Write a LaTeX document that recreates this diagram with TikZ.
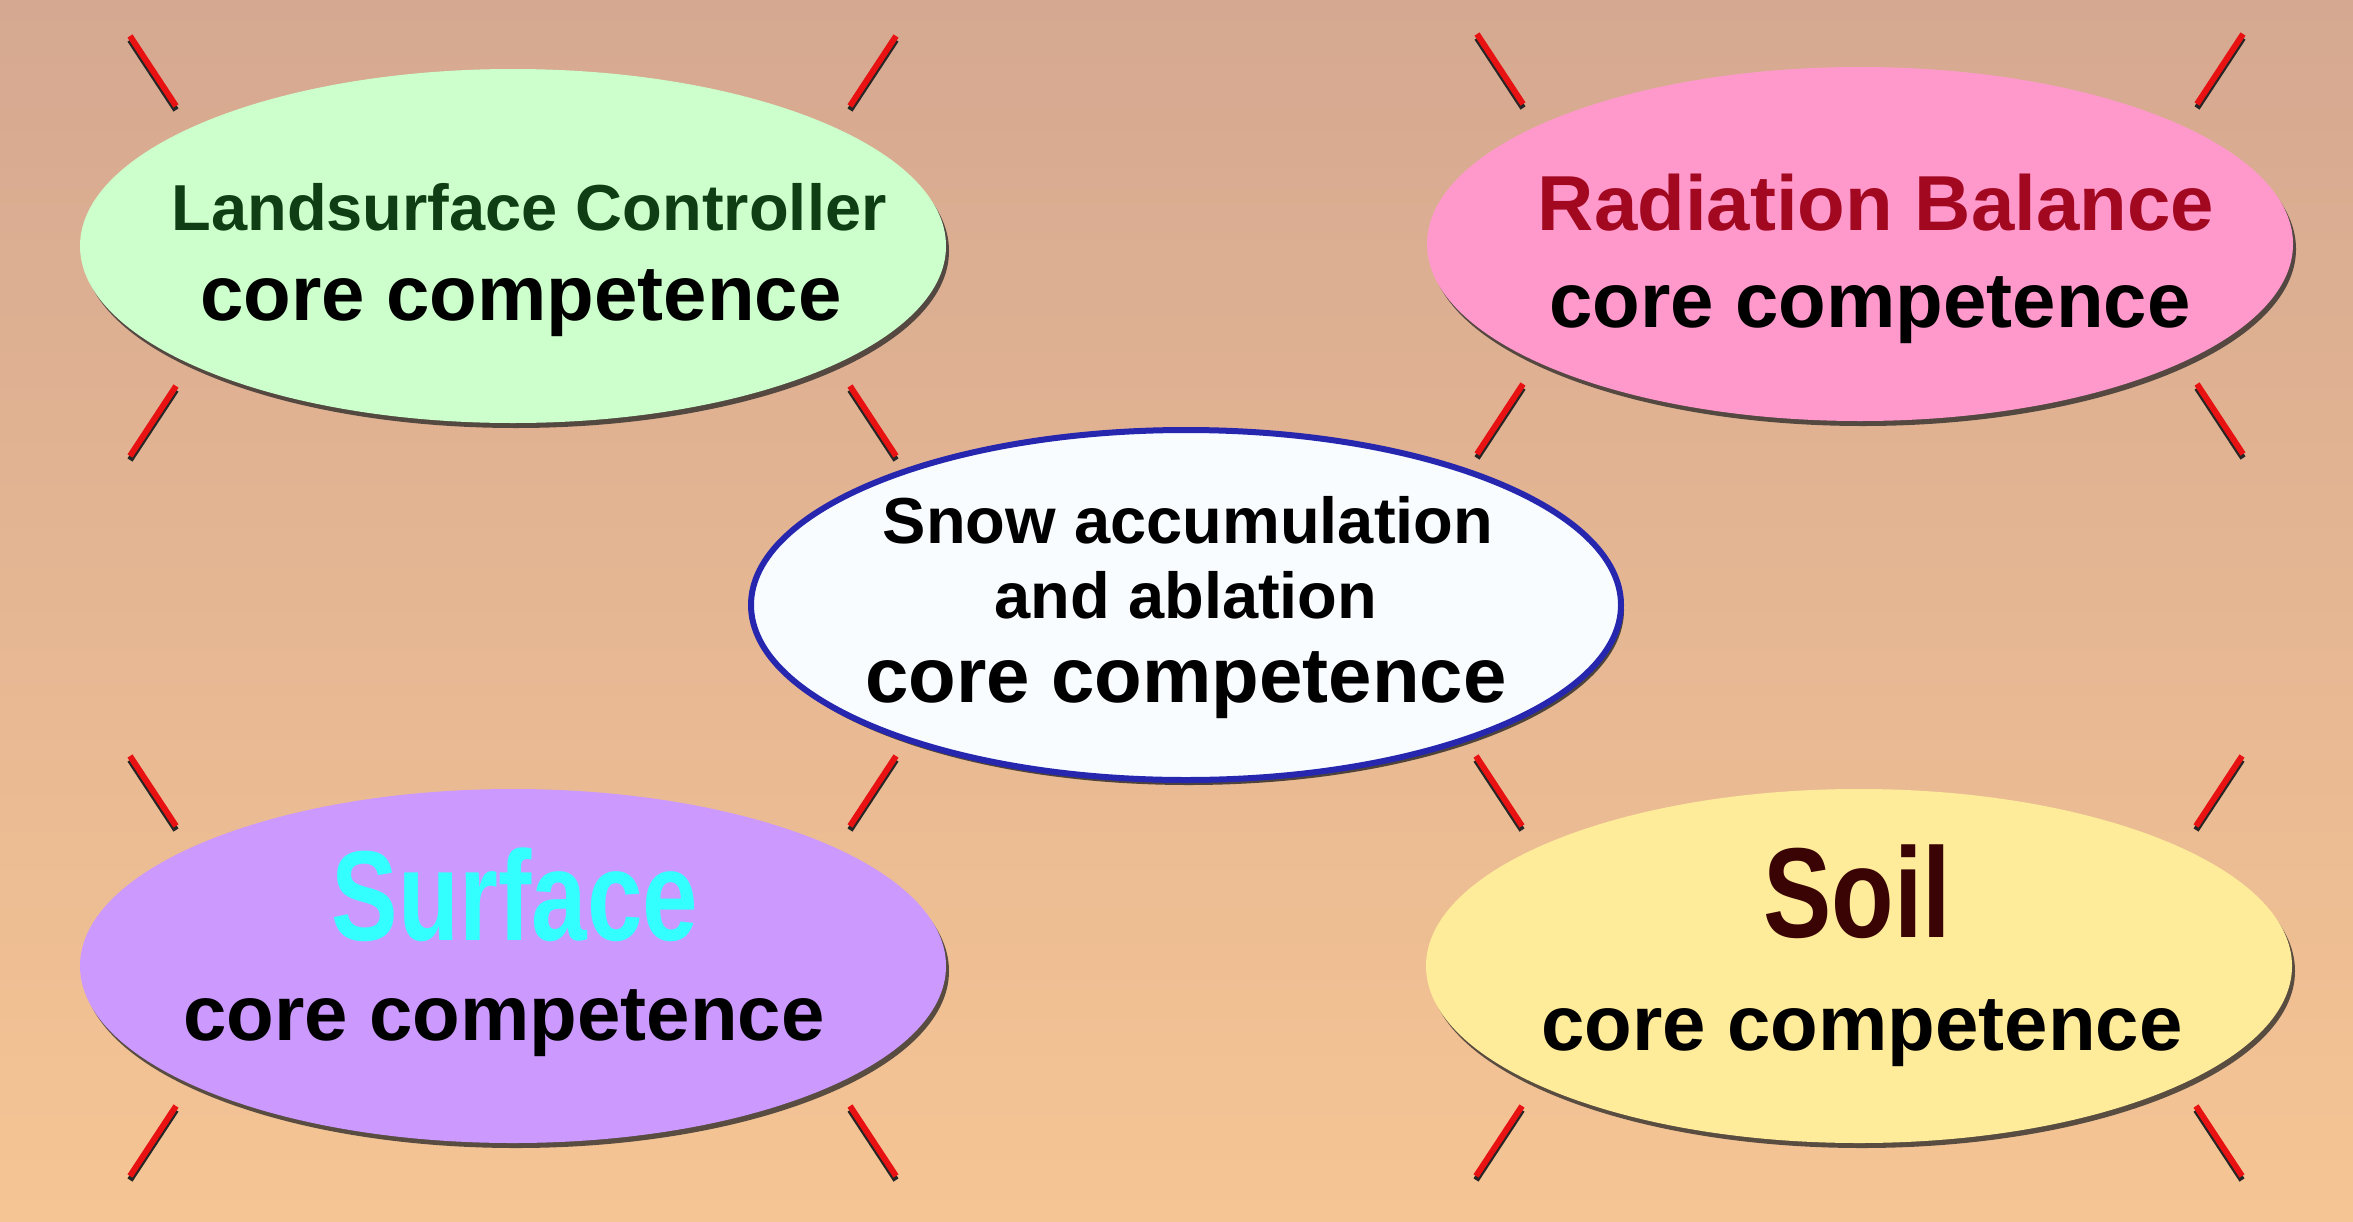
\documentclass[tikz,border=0pt]{standalone}
\usepackage{fontspec}
\usepackage{graphicx}
\setmainfont{Liberation Sans}
\usetikzlibrary{shapes.geometric,shadows}
\definecolor{bgtop}{RGB}{213,168,145}
\definecolor{bgbot}{RGB}{246,197,148}
\definecolor{greenfill}{RGB}{204,255,204}
\definecolor{pinkfill}{RGB}{255,153,204}
\definecolor{purplefill}{RGB}{204,153,255}
\definecolor{yellowfill}{RGB}{255,236,155}
\definecolor{whitefill}{RGB}{248,252,255}
\definecolor{blueedge}{RGB}{38,38,175}
\definecolor{darkgreen}{RGB}{15,62,20}
\definecolor{darkred}{RGB}{162,8,32}
\definecolor{cyantext}{RGB}{51,255,255}
\definecolor{soilbrown}{RGB}{58,4,4}
\definecolor{tickred}{RGB}{232,18,18}
\tikzset{
  oval/.style={ellipse, minimum width=866pt, minimum height=354pt, inner sep=0pt, draw=none,
    drop shadow={shadow xshift=3pt, shadow yshift=-5pt, opacity=0.75, fill=black!85}},
  bigtxt/.style={anchor=base, inner sep=0pt, font=\bfseries\fontsize{78}{90}\selectfont},
  midtxt/.style={anchor=base, inner sep=0pt, font=\bfseries\fontsize{65}{75}\selectfont},
  hugetxt/.style={anchor=base, inner sep=0pt, font=\bfseries\fontsize{128}{140}\selectfont},
  tickline/.style={draw=tickred, line width=6pt},
  tickshade/.style={draw=black!85, line width=6pt}
}
\begin{document}
\begin{tikzpicture}[x=1pt,y=-1pt]
\useasboundingbox (0,0) rectangle (2353,1221);
\shade[top color=bgtop, bottom color=bgbot] (0,0) rectangle (2353,1221);

% colored ellipses
\node[oval, fill=greenfill] (lc) at (513,246) {};
\node[oval, fill=pinkfill] (rb) at (1860,244) {};
\node[oval, fill=purplefill] (sf) at (513,966) {};
\node[oval, fill=yellowfill] (so) at (1859,966) {};

% ticks
\foreach \n in {lc,rb,sf,so} {
  \foreach \sx/\sy in {1/1,1/-1,-1/1,-1/-1} {
    \draw[tickshade] ([shift={(\sx*337,\sy*140+4)}]\n.center) -- ([shift={(\sx*383,\sy*210+4)}]\n.center);
    \draw[tickline] ([shift={(\sx*337,\sy*140)}]\n.center) -- ([shift={(\sx*383,\sy*210)}]\n.center);
  }
}

% center ellipse
\node[ellipse, minimum width=870pt, minimum height=350pt, inner sep=0pt, fill=whitefill,
  draw=blueedge, line width=6pt,
  drop shadow={shadow xshift=3pt, shadow yshift=-5pt, opacity=0.8, fill=black!85}] (sn) at (1186,605) {};

% texts
\node[midtxt, text=darkgreen] (lct) at (529,230) {Landsurface Controller};
\node[bigtxt] (lcc) at (521,320) {core competence};

\node[bigtxt, text=darkred] (rbt) at (1876,230) {Radiation Balance};
\node[bigtxt] (rbc) at (1870,327) {core competence};

\node[midtxt] (snt1) at (1188,543) {Snow accumulation};
\node[midtxt] (snt2) at (1186,618) {and ablation};
\node[bigtxt] (snc) at (1186,702) {core competence};

\node[hugetxt, text=cyantext] (sft) at (515,940) {\scalebox{0.78}[1]{Surface}};
\node[bigtxt] (sfc) at (504,1040) {core competence};

\node[hugetxt, text=soilbrown] (sot) at (1857,937) {\scalebox{0.8}[1]{Soil}};
\node[bigtxt] (soc) at (1862,1050) {core competence};
\end{tikzpicture}
\end{document}
